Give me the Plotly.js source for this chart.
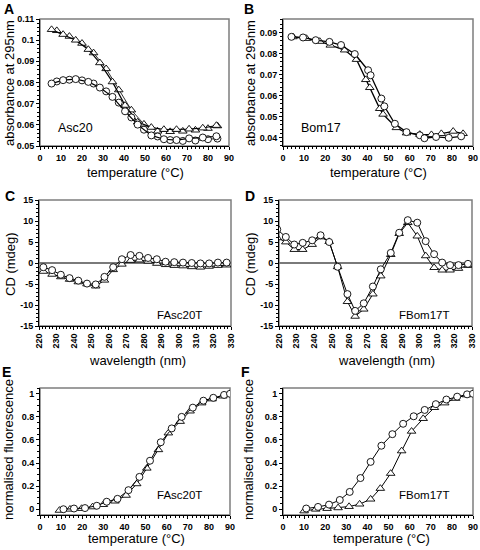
<!DOCTYPE html>
<html>
<head>
<meta charset="utf-8">
<script src="https://cdn.plot.ly/plotly-3.0.1.min.js"></script>
<style>html,body{margin:0;padding:0;background:#fff;}#chart{width:480px;height:550px;}</style>
</head>
<body>
<div id="chart"></div>
<script>
// ---------- Panel A : Asc20 absorbance ----------
const aTri1X = [5.5, 11, 17, 23, 28.5, 34.5, 40.5, 46.5, 53, 59, 65, 71, 77.5, 84];
const aTri1Y = [0.105, 0.1027, 0.100, 0.0956, 0.0893, 0.0803, 0.0692, 0.0613, 0.0588, 0.0578, 0.0578, 0.058, 0.0585, 0.0597];
const aTri2X = [8, 14, 20, 25.5, 31.5, 37.5, 43.5, 49.5, 56, 62, 68, 74, 80, 84.5];
const aTri2Y = [0.1045, 0.1018, 0.0985, 0.094, 0.0865, 0.0765, 0.067, 0.0603, 0.057, 0.0568, 0.057, 0.0575, 0.0583, 0.0595];
const aCir1X = [5.5, 11, 17, 23, 28.5, 34.5, 40.5, 46.5, 53, 59, 65, 71, 77.5, 84];
const aCir1Y = [0.0795, 0.0811, 0.0816, 0.0803, 0.0776, 0.0732, 0.0664, 0.0601, 0.055, 0.0532, 0.0528, 0.0536, 0.054, 0.0546];
const aCir2X = [8, 14, 20, 25.5, 31.5, 37.5, 43.5, 49.5, 56, 62, 68, 74, 80, 84.5];
const aCir2Y = [0.0805, 0.0813, 0.081, 0.0795, 0.0758, 0.0705, 0.0635, 0.0577, 0.0545, 0.0528, 0.0524, 0.0526, 0.0532, 0.0535];

// ---------- Panel B : Bom17 absorbance ----------
const bCirX = [4, 9.5, 15.5, 22, 27.5, 34, 40.3, 41.5, 46.6, 48, 53, 58.5, 64.8, 67, 72.5, 78.5, 84.4];
const bCirY = [0.0879, 0.0876, 0.0863, 0.0855, 0.0840, 0.0797, 0.0720, 0.0696, 0.0585, 0.0548, 0.0465, 0.0425, 0.0410, 0.0396, 0.0402, 0.0398, 0.0405];
const bTriX = [4.7, 11.1, 17.4, 22.4, 29.2, 34.8, 39.2, 41.1, 45.8, 47.4, 53.7, 58.5, 64.8, 70.3, 75, 80.6, 85.3];
const bTriY = [0.0879, 0.0871, 0.0857, 0.0839, 0.0816, 0.0771, 0.0675, 0.0637, 0.0537, 0.0510, 0.0446, 0.0421, 0.0414, 0.0413, 0.0418, 0.0429, 0.0418];

// ---------- Panel C : FAsc20T CD ----------
const cX = [222.5, 227.5, 232.5, 237.5, 242.5, 247.5, 252.5, 257.5, 262.5, 267.5, 272.5, 277.5, 282.5, 287.5, 292.5, 297.5, 302.5, 307.5, 312.5, 317.5, 322.5, 327.5];
const cCirY = [-1.0, -1.7, -2.8, -3.6, -4.2, -4.9, -5.1, -3.3, -1.0, 0.9, 1.9, 1.7, 1.2, 0.9, 0.3, 0.2, 0.1, 0.0, -0.1, -0.1, 0.1, 0.1];
const cTriY = [-2.0, -2.7, -3.3, -3.9, -4.5, -5.0, -5.5, -4.1, -1.6, -0.3, 0.6, 0.7, 0.4, -0.1, -0.4, -0.6, -0.7, -0.9, -1.0, -0.8, -0.6, -0.5];

// ---------- Panel D : FBom17T CD ----------
const dX = [219, 223.9, 228.7, 233.5, 238.9, 243.7, 248.6, 253.4, 259, 263.4, 268.3, 273.5, 278, 283.7, 288.5, 293.4, 298.8, 303.6, 308.4, 313, 317.5, 322.3, 327.7];
const dCirY = [8.0, 6.2, 4.4, 4.8, 5.4, 6.6, 5.0, -0.9, -7.4, -11.4, -9.6, -5.6, -1.5, 2.4, 7.2, 10.2, 9.6, 5.2, 2.1, 0.1, -0.5, -0.5, -0.2];
const dTriY = [6.0, 5.0, 3.2, 3.2, 4.4, 6.2, 5.1, -0.9, -9.2, -12.7, -11.0, -7.4, -3.1, 2.0, 7.0, 9.6, 6.4, 1.7, -1.1, -1.7, -1.7, -1.3, -0.6];

// ---------- Panel E : FAsc20T fluorescence ----------
const eCirX = [11.1, 16.1, 21.3, 26.9, 31.6, 36.7, 41.9, 47.1, 52.1, 57.2, 62.4, 67.1, 72.4, 77.4, 82.1, 87.2, 90];
const eCirY = [0.0, 0.006, 0.01, 0.03, 0.065, 0.09, 0.165, 0.28, 0.42, 0.58, 0.70, 0.80, 0.88, 0.94, 0.965, 0.99, 1.0];
const eTriX = [9.2, 14.2, 19.7, 24.9, 30, 35.5, 40.8, 45.8, 50.6, 56.1, 60.8, 66.4, 71.1, 76.6, 81.5, 86.6, 90];
const eTriY = [-0.01, 0.0, 0.006, 0.02, 0.04, 0.07, 0.12, 0.22, 0.355, 0.515, 0.66, 0.76, 0.85, 0.92, 0.955, 0.98, 1.0];

// ---------- Panel F : FBom17T fluorescence ----------
const fCirX = [11, 16.6, 21.8, 26.9, 31.6, 36.7, 41.5, 46.6, 51.8, 56.9, 61.9, 67.1, 72.4, 77.4, 82.5, 87.2, 90];
const fCirY = [0.006, 0.02, 0.04, 0.08, 0.15, 0.27, 0.41, 0.55, 0.65, 0.74, 0.805, 0.86, 0.91, 0.95, 0.975, 0.995, 1.0];
const fTriX = [10, 15.5, 20.9, 26.1, 31.3, 36.3, 41.5, 46.1, 51, 56.2, 60.9, 66.4, 71.7, 76.6, 81.8, 86.9, 90];
const fTriY = [-0.015, 0.0, 0.006, 0.012, 0.023, 0.044, 0.087, 0.18, 0.31, 0.505, 0.675, 0.785, 0.88, 0.92, 0.96, 0.99, 1.0];

// ---------- tick labels ----------
const tempTicks = [0, 10, 20, 30, 40, 50, 60, 70, 80, 90];
const tempTickText = ['0', '10', '20', '30', '40', '50', '60', '70', '80', '90'];
const aYTicks = [0.05, 0.06, 0.07, 0.08, 0.09, 0.10, 0.11];
const aYTickText = ['0.05', '0.06', '0.07', '0.08', '0.09', '0.1', '0.11'];
const bYTicks = [0.04, 0.05, 0.06, 0.07, 0.08, 0.09];
const bYTickText = ['0.04', '0.05', '0.06', '0.07', '0.08', '0.09'];
const wlTicks = [220, 230, 240, 250, 260, 270, 280, 290, 300, 310, 320, 330];
const wlTickText = ['220', '230', '240', '250', '260', '270', '280', '290', '300', '310', '320', '330'];
const cdTicks = [-15, -10, -5, 0, 5, 10, 15];
const cdTickText = ['-15', '-10', '-5', '0', '5', '10', '15'];
const flTicks = [0, 0.2, 0.4, 0.6, 0.8, 1];
const flTickText = ['0', '0.2', '0.4', '0.6', '0.8', '1'];

const FONT = 'Liberation Sans, Arial, Helvetica, sans-serif';

function tr(x, y, sym, ax, lw, lineColor) {
  return {
    x: x, y: y, xaxis: 'x' + ax, yaxis: 'y' + ax, type: 'scatter', mode: 'lines+markers',
    line: {color: lineColor || '#000', width: lw || 1},
    marker: {symbol: sym, size: sym === 'circle' ? 7 : 7.5, color: '#fff', line: {color: '#000', width: 0.9}},
    showlegend: false, hoverinfo: 'skip', cliponaxis: true
  };
}

const data = [
  tr(aTri2X, aTri2Y, 'triangle-up', '', 1, '#333'),
  tr(aTri1X, aTri1Y, 'triangle-up', '', 1.2),
  tr(aCir2X, aCir2Y, 'circle', '', 1, '#333'),
  tr(aCir1X, aCir1Y, 'circle', '', 1.2),
  tr(bTriX, bTriY, 'triangle-up', '2', 1.3),
  tr(bCirX, bCirY, 'circle', '2', 1.3),
  tr(cX, cTriY, 'triangle-up', '3', 1),
  tr(cX, cCirY, 'circle', '3', 1),
  tr(dX, dTriY, 'triangle-up', '4', 1),
  tr(dX, dCirY, 'circle', '4', 1),
  tr(eTriX, eTriY, 'triangle-up', '5', 1),
  tr(eCirX, eCirY, 'circle', '5', 1),
  tr(fTriX, fTriY, 'triangle-up', '6', 1),
  tr(fCirX, fCirY, 'circle', '6', 1)
];
data.slice(0, 4).forEach(t => { t.xaxis = 'x'; t.yaxis = 'y'; });

const W = 480, H = 550;
function dx(a, b) { return [a / W, b / W]; }
function dy(top, bottom) { return [1 - bottom / H, 1 - top / H]; }

function xax(domain, anchor, range, tv, tt, minorD, angle) {
  return {
    domain: domain, anchor: anchor, range: range, tickvals: tv, ticktext: tt,
    showline: true, linecolor: '#000', linewidth: 1, mirror: false,
    ticks: 'outside', ticklen: 3, tickwidth: 1, tickcolor: '#000',
    minor: {ticks: 'outside', ticklen: 2, tickwidth: 1, tickcolor: '#000', dtick: minorD, showgrid: false},
    tickfont: {family: FONT, size: 9, color: '#000', weight: 'bold'},
    tickangle: angle || 0, showgrid: false, zeroline: false, fixedrange: true
  };
}
function yax(domain, anchor, range, tv, tt, minorD, zl) {
  return {
    domain: domain, anchor: anchor, range: range, tickvals: tv, ticktext: tt,
    showline: true, linecolor: '#000', linewidth: 1,
    ticks: 'outside', ticklen: 3, tickwidth: 1, tickcolor: '#000',
    minor: {ticks: 'outside', ticklen: 2, tickwidth: 1, tickcolor: '#000', dtick: minorD, showgrid: false},
    tickfont: {family: FONT, size: 9, color: '#000', weight: 'bold'},
    showgrid: false, zeroline: !!zl, zerolinecolor: '#7a7a7a', zerolinewidth: 1.2, fixedrange: true
  };
}

const colL = dx(40, 229), colR = dx(283, 473);
const colLc = dx(39, 231), colRc = dx(279, 472);
const colLe = dx(40, 230), colRe = dx(283, 473);
const row1 = dy(19, 146), row2 = dy(200, 326), row3 = dy(388, 515);

const layout = {
  width: W, height: H, margin: {l: 0, r: 0, t: 0, b: 0},
  paper_bgcolor: '#fff', plot_bgcolor: 'rgba(0,0,0,0)',
  font: {family: FONT, color: '#000'},
  showlegend: false,
  xaxis: xax(colL, 'y', [0, 90], tempTicks, tempTickText, 2),
  yaxis: yax(row1, 'x', [0.05, 0.11], aYTicks, aYTickText, 0.002),
  xaxis2: xax(colR, 'y2', [0, 90], tempTicks, tempTickText, 2),
  yaxis2: yax(row1, 'x2', [0.0359, 0.0964], bYTicks, bYTickText, 0.002),
  xaxis3: xax(colLc, 'y3', [220, 330], wlTicks, wlTickText, 2, -90),
  yaxis3: yax(row2, 'x3', [-15, 15], cdTicks, cdTickText, 1, true),
  xaxis4: xax(colRc, 'y4', [220, 330], wlTicks, wlTickText, 2, -90),
  yaxis4: yax(row2, 'x4', [-15, 15], cdTicks, cdTickText, 1, true),
  xaxis5: xax(colLe, 'y5', [0, 90], tempTicks, tempTickText, 2),
  yaxis5: yax(row3, 'x5', [-0.05, 1.05], flTicks, flTickText, 0.05),
  xaxis6: xax(colRe, 'y6', [0, 90], tempTicks, tempTickText, 2),
  yaxis6: yax(row3, 'x6', [-0.05, 1.05], flTicks, flTickText, 0.05),
  shapes: [],
  annotations: []
};

['', '2', '3', '4', '5', '6'].forEach(s => {
  layout.shapes.push({type: 'rect', xref: 'x' + s + ' domain', yref: 'y' + s + ' domain',
    x0: 0, x1: 1, y0: 0, y1: 1, line: {color: '#7d7d7d', width: 1.5}, layer: 'below'});
});

function ann(text, x, y, size, opts) {
  return Object.assign({text: text, xref: 'paper', yref: 'paper', x: x / W, y: 1 - y / H,
    xanchor: 'center', yanchor: 'middle', showarrow: false,
    font: {family: FONT, size: size, color: '#000'}}, opts || {});
}
const A = layout.annotations;
[['A', 9, 9], ['B', 249, 9], ['C', 10, 196], ['D', 250, 196], ['E', 6, 372], ['F', 246, 372]].forEach(p => {
  A.push(ann('<b>' + p[0] + '</b>', p[1], p[2], 14));
});
A.push(ann('Asc20', 75, 128, 12.5));
A.push(ann('Bom17', 321, 128, 12.5));
A.push(ann('FAsc20T', 179, 315, 11.5));
A.push(ann('FBom17T', 424, 315, 11.5));
A.push(ann('FAsc20T', 179, 495, 11.5));
A.push(ann('FBom17T', 424, 495, 11.5));
A.push(ann('temperature (°C)', 135, 172, 13));
A.push(ann('temperature (°C)', 378, 172, 13));
A.push(ann('wavelength (nm)', 137, 360, 13));
A.push(ann('wavelength (nm)', 386, 360, 13));
A.push(ann('temperature (°C)', 136, 538, 13));
A.push(ann('temperature (°C)', 381, 538, 13));
A.push(ann('absorbance at 295nm', 10, 83, 13, {textangle: -90}));
A.push(ann('absorbance at 295nm', 251, 83, 13, {textangle: -90}));
A.push(ann('CD (mdeg)', 10, 264, 13, {textangle: -90}));
A.push(ann('CD (mdeg)', 250, 264, 13, {textangle: -90}));
A.push(ann('normalised fluorescence', 8, 450, 13, {textangle: -90}));
A.push(ann('normalised fluorescence', 248, 450, 13, {textangle: -90}));

Plotly.newPlot('chart', data, layout, {staticPlot: true, displayModeBar: false});
</script>
</body>
</html>
